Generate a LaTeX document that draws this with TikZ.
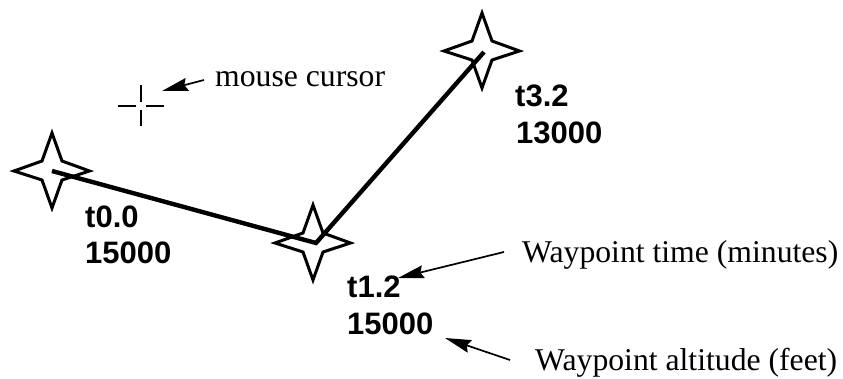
\documentclass[tikz,border=0pt]{standalone}
\usepackage{fontspec}
\setmainfont{Liberation Serif}
\newfontfamily\boldsans{Liberation Sans}
\usetikzlibrary{arrows.meta,calc}
\tikzset{
  x=1pt,y=-1pt,
  wpstar/.style={draw=black,line width=3pt,line join=miter,miter limit=10},
  route/.style={draw=black,line width=4.4pt,line join=miter},
  cursorline/.style={draw=black,line width=2.8pt},
  pointer/.style={draw=black,line width=1.7pt,-{Stealth[length=26pt,width=13pt,inset=3pt]}},
  wplabel/.style={anchor=base west,inner sep=0pt,align=left,font=\boldsans\bfseries\fontsize{31}{36}\selectfont},
  note/.style={anchor=base west,inner sep=0pt,font=\fontsize{31.7}{36}\selectfont}
}
\newcommand{\wpshape}[1]{%
  \draw[wpstar] ($(#1)+(0,-38)$) -- ($(#1)+(10,-10)$) -- ($(#1)+(37.5,0)$) -- ($(#1)+(10,9)$) -- ($(#1)+(0,37)$) -- ($(#1)+(-10,9)$) -- ($(#1)+(-38,0)$) -- ($(#1)+(-10,-10)$) -- cycle;}
\begin{document}
\begin{tikzpicture}
\useasboundingbox (0,0) rectangle (843,379);
\coordinate (w0) at (52,171);
\coordinate (w1) at (313,243);
\coordinate (w2) at (482,51);
\coordinate (r0) at (52,171);
\coordinate (r1) at (316,243);
\coordinate (r2) at (484,52);
\wpshape{w0}
\wpshape{w1}
\wpshape{w2}
\draw[route] (r0) -- (r1) -- (r2);
% cursor
\coordinate (c) at (141,106);
\draw[cursorline] ($(c)+(-23,0)$) -- ($(c)+(-5,0)$);
\draw[cursorline] ($(c)+(5,0)$) -- ($(c)+(23,0)$);
\draw[cursorline] ($(c)+(0,-21)$) -- ($(c)+(0,-4)$);
\draw[cursorline] ($(c)+(0,4)$) -- ($(c)+(0,20)$);
% labels
\node[wplabel] (l0a) at (85,228) {t0.0};
\node[wplabel] (l0b) at (85,264) {15000};
\node[wplabel] (l1a) at (347,298) {t1.2};
\node[wplabel] (l1b) at (347,334) {15000};
\node[wplabel] (l2a) at (515,107) {t3.2};
\node[wplabel] (l2b) at (516,144) {13000};
\node[note] (nm) at (215,87) {mouse cursor};
\node[note] (nt) at (522,263) {Waypoint time (minutes)};
\node[note] (na) at (535,370) {Waypoint altitude (feet)};
% pointers
\coordinate (pm) at (204,80);
\coordinate (qm) at (162,91);
\coordinate (pt) at (504,252);
\coordinate (qt) at (398,278);
\coordinate (pa) at (510,360);
\coordinate (qa) at (445,338);
\draw[pointer] (pm) -- (qm);
\draw[pointer] (pt) -- (qt);
\draw[pointer] (pa) -- (qa);
\end{tikzpicture}
\end{document}
